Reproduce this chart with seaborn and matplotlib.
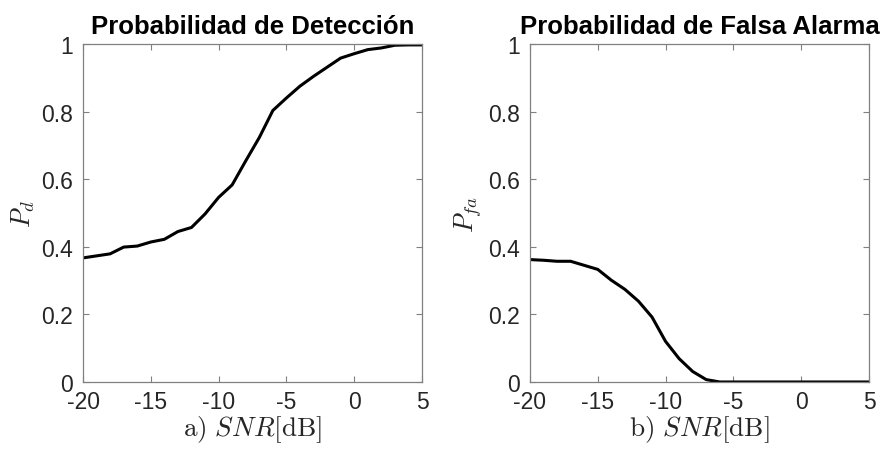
import numpy as np
import pandas as pd
import matplotlib
matplotlib.use('Agg')
import matplotlib.pyplot as plt
import seaborn as sns

# SNR axis in dB
snr_db = [-20, -19, -18, -17, -16, -15, -14, -13, -12, -11, -10, -9, -8,
          -7, -6, -5, -4, -3, -2, -1, 0, 1, 2, 3, 4, 5]

# detection probability
p_d = [0.367, 0.373, 0.379, 0.399, 0.402, 0.414, 0.422, 0.445, 0.457, 0.497,
       0.546, 0.583, 0.654, 0.723, 0.803, 0.840, 0.875, 0.904, 0.931, 0.958,
       0.971, 0.983, 0.988, 0.996, 0.997, 0.997]

# false alarm probability
p_fa = [0.362, 0.360, 0.357, 0.357, 0.345, 0.333, 0.301, 0.274, 0.239, 0.192,
        0.120, 0.069, 0.031, 0.007, 0.0, 0.0, 0.0, 0.0, 0.0, 0.0,
        0.0, 0.0, 0.0, 0.0, 0.0, 0.0]

titles = ['Probabilidad de Detección', 'Probabilidad de Falsa Alarma']
ylabels = [r'$P_d$', r'$P_{fa}$']
xlabels = [r'$\mathrm{a)}\ SNR[\mathrm{dB}]$', r'$\mathrm{b)}\ SNR[\mathrm{dB}]$']
xticks = [-20, -15, -10, -5, 0, 5]
yticks = [0, 0.2, 0.4, 0.6, 0.8, 1]
ytick_labels = ['0', '0.2', '0.4', '0.6', '0.8', '1']

sns.set_theme(style='white')
plt.rcParams['font.family'] = ['Liberation Sans', 'DejaVu Sans']
plt.rcParams['mathtext.fontset'] = 'cm'

df = pd.DataFrame({'snr': snr_db, 'pd': p_d, 'pfa': p_fa})

fig = plt.figure(figsize=(8.84, 4.52), dpi=100)
ax_left = fig.add_axes([0.0939, 0.1527, 0.3835, 0.748])
ax_right = fig.add_axes([0.5995, 0.1527, 0.3835, 0.748])

for ax, col, title, ylab, xlab in zip([ax_left, ax_right], ['pd', 'pfa'],
                                      titles, ylabels, xlabels):
    sns.lineplot(data=df, x='snr', y=col, ax=ax, color='black', linewidth=2.2)
    ax.set_xlim(-20, 5)
    ax.set_ylim(0, 1)
    ax.set_xticks(xticks)
    ax.set_xticklabels([str(t) for t in xticks])
    ax.set_yticks(yticks)
    ax.set_yticklabels(ytick_labels)
    ax.tick_params(direction='in', length=4, width=0.8, color='#808080',
                   labelcolor='#262626', labelsize=16.5,
                   top=True, right=True, bottom=True, left=True)
    ax.tick_params(axis='x', pad=6)
    ax.tick_params(axis='y', pad=7)
    for side in ['top', 'bottom', 'left', 'right']:
        ax.spines[side].set_visible(True)
        ax.spines[side].set_color('#808080')
        ax.spines[side].set_linewidth(0.9)
    ax.set_title(title, fontsize=18.5, fontweight='bold', color='black', pad=8)
    ax.set_xlabel(xlab, fontsize=19.5, color='#262626', labelpad=0)
    ax.set_ylabel(ylab, fontsize=19, color='#262626', labelpad=3)

fig.savefig('out.png', dpi=100)
